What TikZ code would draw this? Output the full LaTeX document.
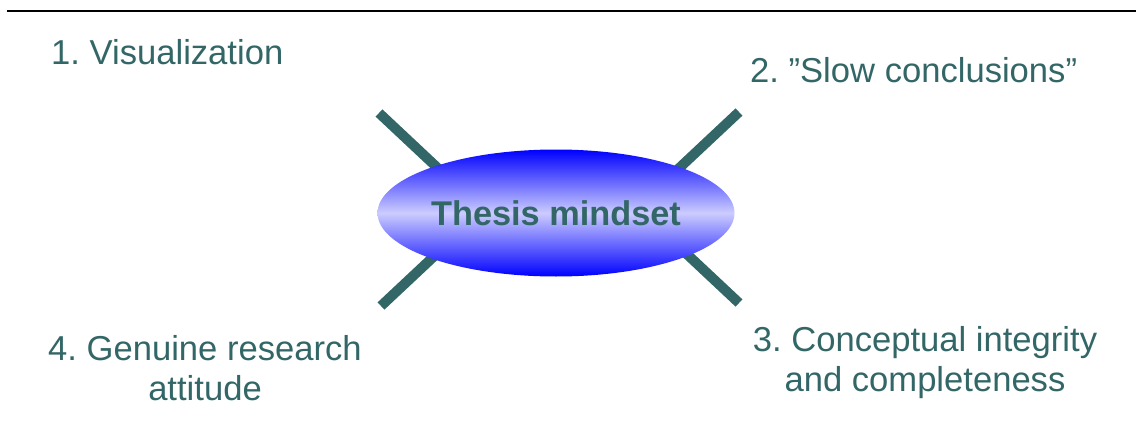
\documentclass[tikz,border=0pt]{standalone}
\usepackage{fontspec}
\setmainfont{Liberation Sans}
\usetikzlibrary{shapes.geometric,positioning}
\definecolor{tealtext}{RGB}{51,102,102}
\frenchspacing

\begin{document}
\begin{tikzpicture}[
    x=1pt, y=-1pt,
    point/.style={text=tealtext, inner sep=0pt, font=\fontsize{34.6}{40}\selectfont},
    spoke/.style={draw=tealtext, line width=10pt},
    mindset/.style={ellipse, minimum width=357pt, minimum height=127pt, inner sep=0pt,
        top color=blue, bottom color=blue, middle color=blue!20,
        text=tealtext, font=\fontsize{34.3}{40}\selectfont\bfseries}
]
    \useasboundingbox (0,0) rectangle (1136,428);
    \draw[line width=2.5pt] (7,11) -- (1136,11);

    \coordinate (tl) at (379,113);
    \coordinate (tr) at (739,112);
    \coordinate (bl) at (381,306);
    \coordinate (br) at (739,303);

    \draw[spoke] (tl) -- ++(80,75);
    \draw[spoke] (tr) -- ++(-80,75);
    \draw[spoke] (bl) -- ++(80,-75);
    \draw[spoke] (br) -- ++(-80,-75);

    \node[mindset] (mind) at (556,213) {Thesis mindset};

    \node[point, anchor=base west] (p1) at (51,65) {1. Visualization};
    \node[point, anchor=base west] (p2) at (750,83) {2. ”Slow conclusions”};
    \node[point, anchor=base, align=center] (p3) at (925,391) {3. Conceptual integrity\\and completeness};
    \node[point, anchor=base, align=center] (p4) at (205,400) {4. Genuine research\\attitude};
\end{tikzpicture}
\end{document}
